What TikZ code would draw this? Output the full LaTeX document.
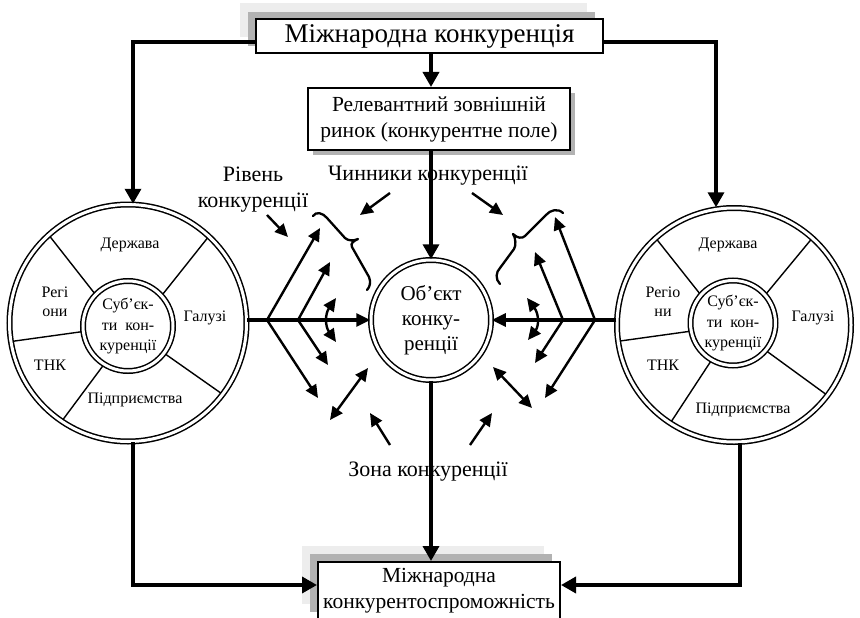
\documentclass[tikz,border=0pt]{standalone}
\usepackage{fontspec}
\setmainfont{Liberation Serif}
\usetikzlibrary{arrows.meta,calc}
\begin{document}
\begin{tikzpicture}[x=1pt,y=-1pt,
  conn/.style={line width=3.5pt,-{Triangle[length=15pt,width=16pt]}},
  mainarr/.style={line width=3.2pt,-{Triangle[length=14pt,width=13pt]}},
  midarr/.style={line width=2.4pt,-{Triangle[length=13pt,width=12pt]}},
  dblarr/.style={line width=2.4pt,{Triangle[length=13pt,width=12pt]}-{Triangle[length=13pt,width=12pt]}},
  ring/.style={circle,draw,double,line width=1.5pt,double distance=3pt,inner sep=0pt},
  sector/.style={line width=1.4pt},
  bx/.style={draw,line width=2pt,fill=white,inner sep=0pt,align=center},
  boxtxt/.style={font=\fontsize{21.5}{26}\selectfont},
  ctxt/.style={font=\fontsize{16}{20}\selectfont,align=center},
  lbl/.style={font=\fontsize{22}{26}\selectfont,align=center},
  brc/.style={line width=2.3pt,line cap=round,line join=round},
]
\clip (0,0) rectangle (860,618);

% ---------- boxes ----------
\fill[black!7] (240,3) rectangle (587,37);
\fill[black!30] (248,12) rectangle (595,46);
\node[bx,minimum width=347pt,minimum height=34pt,font=\fontsize{27}{30}\selectfont] (Top) at (429.5,36) {Міжнародна конкуренція};

\fill[black!30] (313,93) rectangle (575,155);
\node[bx,boxtxt,minimum width=262pt,minimum height=62pt] (Rel) at (439,119) {Релевантний зовнішній\\ринок (конкурентне поле)};

\fill[black!7] (302,546) rectangle (544,604);
\fill[black!30] (310,554) rectangle (552,612);
\node[bx,boxtxt,minimum width=242pt,minimum height=58pt] (Bot) at (439,591) {Міжнародна\\конкурентоспроможність};

% ---------- sector lines ----------
\coordinate (Lc) at (128,323);
\coordinate (Lic) at (128,326);
\coordinate (Rc) at (734,325);
\coordinate (Ric) at (733,323);
\foreach \a/\b in {132/136,47/42,189/187,236/238,323/323}
  \draw[sector] ($(Lc)+(\a:118.5pt)$) -- ($(Lic)+(\b:45pt)$);
\foreach \a/\b in {132/139,48/41,188/191,237/240,323/320}
  \draw[sector] ($(Rc)+(\a:117pt)$) -- ($(Ric)+(\b:42.5pt)$);

% ---------- rings ----------
\node[ring,minimum size=237pt] (L) at (Lc) {};
\node[ring,minimum size=90pt] (Li) at (Lic) {};
\node[ring,minimum size=234pt] (R) at (Rc) {};
\node[ring,minimum size=85pt] (Ri) at (Ric) {};
\node[ring,minimum size=120pt,font=\fontsize{21}{25}\selectfont,align=center] (O) at (431,320) {Об’єкт\\конку-\\ренції};

% ---------- circle texts ----------
\node[ctxt] (l1) at (130,245) {Держава};
\node[ctxt,font=\fontsize{16}{19}\selectfont] (l2) at (55,302) {Регі\\они};
\node[ctxt] (l3) at (205,318) {Галузі};
\node[ctxt] (l4) at (50,365) {ТНК};
\node[ctxt] (l5) at (135,400) {Підприємства};
\node[ctxt,font=\fontsize{16}{20.5}\selectfont] (l6) at (Lic) {Суб’єк-\\ти\ \ кон-\\куренції};

\node[ctxt] (r1) at (728,245) {Держава};
\node[ctxt,font=\fontsize{16}{19}\selectfont] (r2) at (663,302) {Регіо\\ни};
\node[ctxt] (r3) at (813,318) {Галузі};
\node[ctxt] (r4) at (663,365) {ТНК};
\node[ctxt] (r5) at (743,410) {Підприємства};
\node[ctxt,font=\fontsize{16}{20.5}\selectfont] (r6) at (Ric) {Суб’єк-\\ти\ \ кон-\\куренції};

% ---------- labels ----------
\node[lbl] (rv) at (253,190) {Рівень\\конкуренції};
\node[lbl] (ch) at (428,176) {Чинники конкуренції};
\node[lbl] (zn) at (428,472) {Зона конкуренції};

% ---------- main connectors ----------
\coordinate (cx) at (431,0);
\coordinate (tl) at (133,42);
\coordinate (tr) at (716,42);
\coordinate (bl) at (133,585);
\coordinate (br) at (740,585);
\draw[conn] (Top.west |- tl) -- (tl) -- (tl |- L.north);
\draw[conn] (Top.east |- tr) -- (tr) -- (tr |- R.north);
\draw[conn] (Top.south -| cx) -- (Rel.north -| cx);
\draw[conn] (Rel.south -| cx) -- (O.north);
\draw[conn] (O.south) -- (Bot.north -| O.south);
\draw[conn] (bl |- L.south) -- (bl) -- (Bot.west |- bl);
\draw[conn] (br |- R.south) -- (br) -- (Bot.east |- br);

\draw[mainarr] (L.east |- O) -- (O.west);
\draw[mainarr] (R.west |- O) -- (O.east);

% ---------- left fan ----------
\coordinate (lb1) at (267,320);
\coordinate (lb2) at (298,320);
\coordinate (lu1) at (320,228);
\coordinate (ld1) at (318,398);
\coordinate (lu2) at (330,262);
\coordinate (ld2) at (328,365);
\coordinate (lc1) at (336,298);
\coordinate (lc2) at (336,342);
\draw[midarr] (lb1) -- (lu1);
\draw[midarr] (lb1) -- (ld1);
\draw[midarr] (lb2) -- (lu2);
\draw[midarr] (lb2) -- (ld2);
\draw[dblarr] (lc1) .. controls (325,314) and (325,326) .. (lc2);

% ---------- right fan ----------
\coordinate (rb1) at (595,320);
\coordinate (rb2) at (563,320);
\coordinate (ru1) at (555,217);
\coordinate (rd1) at (545,398);
\coordinate (ru2) at (535,252);
\coordinate (rd2) at (535,363);
\coordinate (rc1) at (527,298);
\coordinate (rc2) at (528,340);
\draw[midarr] (rb1) -- (ru1);
\draw[midarr] (rb1) -- (rd1);
\draw[midarr] (rb2) -- (ru2);
\draw[midarr] (rb2) -- (rd2);
\draw[dblarr] (rc1) .. controls (539,314) and (539,326) .. (rc2);

% ---------- braces ----------
\draw[brc] (313,216) .. controls (316,211) and (323,213) .. (327,218)
  -- (345,238) .. controls (348,241) and (354,241) .. (358,239)
  .. controls (354,241) and (350,243) .. (352,247)
  -- (369,277) .. controls (371,282) and (370,287) .. (367,290);
\draw[brc] (500,284) .. controls (495,279) and (496,272) .. (500,268)
  -- (514,249) .. controls (516,246) and (516,238) .. (513,234)
  .. controls (517,238) and (522,239) .. (525,236)
  -- (546,215) .. controls (550,210) and (558,208) .. (563,213);

% ---------- pointer arrows ----------
\coordinate (p1a) at (267,215); \coordinate (p1b) at (288,237);
\coordinate (p2a) at (390,193); \coordinate (p2b) at (360,215);
\coordinate (p3a) at (472,193); \coordinate (p3b) at (503,215);
\coordinate (z1a) at (390,445); \coordinate (z1b) at (370,413);
\coordinate (z2a) at (470,445); \coordinate (z2b) at (492,413);
\coordinate (d1a) at (330,420); \coordinate (d1b) at (368,368);
\coordinate (d2a) at (493,367); \coordinate (d2b) at (532,408);
\draw[midarr] (p1a) -- (p1b);
\draw[midarr] (p2a) -- (p2b);
\draw[midarr] (p3a) -- (p3b);
\draw[midarr] (z1a) -- (z1b);
\draw[midarr] (z2a) -- (z2b);
\draw[dblarr] (d1a) -- (d1b);
\draw[dblarr] (d2a) -- (d2b);
\end{tikzpicture}
\end{document}
